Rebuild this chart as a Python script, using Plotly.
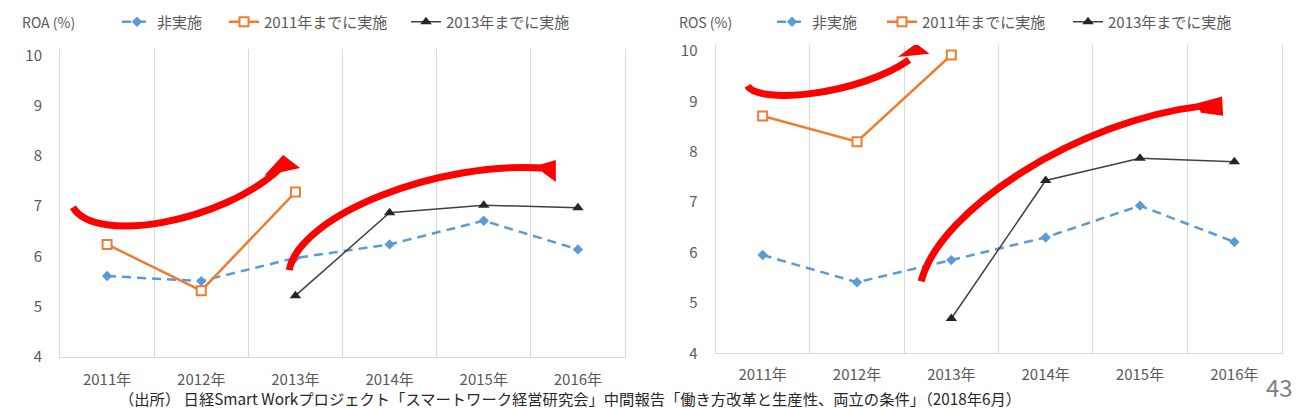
import plotly.graph_objects as go

# ---------------- data ----------------
years = ["2011年", "2012年", "2013年", "2014年", "2015年", "2016年"]
series_names = ["非実施", "2011年までに実施", "2013年までに実施"]

roa_none = [5.61, 5.51, 5.97, 6.24, 6.71, 6.14]
roa_2011 = [6.24, 5.32, 7.28, None, None, None]
roa_2013 = [None, None, 5.22, 6.87, 7.02, 6.97]

ros_none = [5.95, 5.41, 5.85, 6.30, 6.93, 6.21]
ros_2011 = [8.71, 8.20, 9.92, None, None, None]
ros_2013 = [None, None, 4.69, 7.43, 7.87, 7.80]

y_ticks = [4, 5, 6, 7, 8, 9, 10]

panel_titles = ["ROA (%)", "ROS (%)"]
source_text = "（出所） 日経Smart Workプロジェクト「スマートワーク経営研究会」中間報告「働き方改革と生産性、両立の条件」（2018年6月）"
page_number = "43"

# ---------------- styles ----------------
FONT = "Noto Sans CJK JP"
GRAY = "#595959"
GRID = "#D9D9D9"
BLUE = "#5B9BD5"
ORANGE = "#ED7D31"
DARK = "#404040"
RED = "#FF0000"

styles = [
    dict(line=dict(color=BLUE, width=2.5, dash="9px,6px"),
         marker=dict(symbol="diamond", size=8, color=BLUE)),
    dict(line=dict(color=ORANGE, width=2.5),
         marker=dict(symbol="square", size=9, color="white",
                     line=dict(color=ORANGE, width=2))),
    dict(line=dict(color=DARK, width=1.5),
         marker=dict(symbol="triangle-up", size=10, color="#262626")),
]

fig = go.Figure()

panels = [
    ("x", "y", [roa_none, roa_2011, roa_2013], ["legend", "legend2", "legend3"]),
    ("x2", "y2", [ros_none, ros_2011, ros_2013], ["legend4", "legend5", "legend6"]),
]
for xa, ya, data, legs in panels:
    for name, vals, st, lg in zip(series_names, data, styles, legs):
        fig.add_trace(go.Scatter(
            x=years, y=vals, name=name, mode="lines+markers",
            xaxis=xa, yaxis=ya, legend=lg, showlegend=True,
            line=st["line"], marker=st["marker"], hoverinfo="skip"))

axis_x = dict(type="category", categoryorder="array", categoryarray=years,
              range=[-0.5, 5.5], tickson="boundaries", showgrid=True,
              gridcolor=GRID, gridwidth=1, showline=True,
              linecolor=GRID, linewidth=1, ticks="", zeroline=False,
              automargin=False,
              tickfont=dict(family=FONT, size=15, color=GRAY))
axis_y = dict(range=[4, 10.12], tickvals=y_ticks, showgrid=False,
              zeroline=False, showline=True, mirror=True, linecolor=GRID,
              linewidth=1, ticks="", automargin=False,
              tickfont=dict(family=FONT, size=15, color=GRAY))

fig.update_layout(
    xaxis=dict(axis_x, domain=[60 / 1296, 625 / 1296], anchor="y", ticklabelstandoff=9),
    yaxis=dict(axis_y, domain=[0.125, 0.8791], anchor="x", ticklabelstandoff=14),
    xaxis2=dict(axis_x, domain=[715.5 / 1296, 1281.5 / 1296], anchor="y2", ticklabelstandoff=8),
    yaxis2=dict(axis_y, domain=[0.1341, 0.8898], anchor="x2", ticklabelstandoff=14),
)

# legends: one per entry so each sits where the reference has it
leg_common = dict(orientation="h", yanchor="middle", y=(408 - 22) / 408, xanchor="left",
                  bgcolor="rgba(0,0,0,0)", borderwidth=0,
                  font=dict(family=FONT, size=15, color=GRAY), itemwidth=30)
leg_x = {"legend": 117, "legend2": 224, "legend3": 406,
         "legend4": 772, "legend5": 882, "legend6": 1068}
for k, px in leg_x.items():
    fig.update_layout({k: dict(leg_common, x=px / 1296)})

# ---------------- red hand-drawn arrows (annotation shapes, in axis units) ----------------
arrow_curves = [
    ("x", "y", "M -0.362,6.98 C -0.129,6.225 1.246,6.68 1.849,7.775",
     "M 1.700,7.640 L 1.871,7.990 L 2.025,7.770 Z"),
    ("x", "y", "M 1.934,5.728 C 2.040,6.821 3.521,7.914 4.664,7.755",
     "M 4.580,7.795 L 4.755,7.890 L 4.755,7.520 L 4.643,7.675 Z"),
    ("x2", "y2", "M -0.161,9.307 C -0.034,8.931 1.024,9.129 1.553,9.822",
     "M 1.470,9.910 L 1.627,10.125 L 1.740,9.960 Z"),
    ("x2", "y2", "M 1.680,5.426 C 1.870,6.851 3.352,8.634 4.675,8.911",
     "M 4.622,8.950 L 4.860,9.070 L 4.870,8.740 L 4.653,8.792 Z"),
]
shapes = []
for xr, yr, curve, head in arrow_curves:
    shapes.append(dict(type="path", xref=xr, yref=yr, path=curve,
                       line=dict(color=RED, width=7), layer="above"))
    shapes.append(dict(type="path", xref=xr, yref=yr, path=head,
                       fillcolor=RED, line=dict(color=RED, width=2), layer="above"))
fig.update_layout(shapes=shapes)

annotations = [
    dict(text=panel_titles[0], x=20 / 1296, y=(408 - 22) / 408, xref="paper", yref="paper",
         xanchor="left", yanchor="middle", showarrow=False,
         font=dict(family=FONT, size=14, color=GRAY)),
    dict(text=panel_titles[1], x=677 / 1296, y=(408 - 22) / 408, xref="paper", yref="paper",
         xanchor="left", yanchor="middle", showarrow=False,
         font=dict(family=FONT, size=14, color=GRAY)),
    dict(text=source_text, x=570 / 1296, y=(408 - 397.8) / 408, xref="paper", yref="paper",
         xanchor="center", yanchor="middle", showarrow=False,
         font=dict(family=FONT, size=15.3, color="#262626")),
    dict(text=page_number, x=1295 / 1296, y=(408 - 386) / 408, xref="paper", yref="paper",
         xanchor="right", yanchor="middle", showarrow=False,
         font=dict(family=FONT, size=24, color="#808080")),
]
fig.update_layout(annotations=annotations)

fig.update_layout(width=1296, height=408,
                  margin=dict(l=0, r=0, t=0, b=0, pad=0, autoexpand=False),
                  paper_bgcolor="white", plot_bgcolor="white",
                  font=dict(family=FONT, color=GRAY))

fig.write_html("out.html", config={"displayModeBar": False},
               post_script="document.body.style.margin='0';document.body.style.padding='0';")
